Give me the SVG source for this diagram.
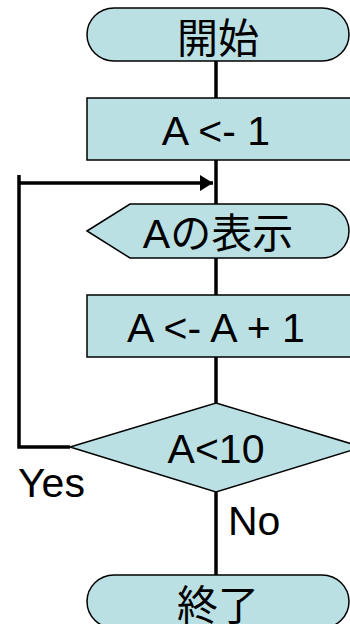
<svg xmlns="http://www.w3.org/2000/svg" width="350" height="624" viewBox="0 0 350 624">
<style>
.shape{fill:#bbe0e3;stroke:#000;stroke-width:1.5}
.conn{fill:none;stroke:#000;stroke-width:3.5}
text{font-family:"Liberation Sans","Noto Sans CJK JP",sans-serif;font-size:41px;fill:#000}
.c{text-anchor:middle}
</style>
<defs>
<marker id="arr" markerUnits="userSpaceOnUse" markerWidth="14" markerHeight="16" refX="13" refY="8" orient="auto">
<path d="M0,0 L13,8 L0,16 Z" fill="#000"/>
</marker>
</defs>
<rect width="350" height="624" fill="#fff"/>
<g id="connectors">
<line class="conn" x1="216" y1="61" x2="216" y2="98"/>
<line class="conn" x1="216" y1="160" x2="216" y2="204"/>
<line class="conn" x1="216" y1="258" x2="216" y2="295"/>
<line class="conn" x1="216" y1="357" x2="216" y2="403"/>
<line class="conn" x1="216" y1="492" x2="216" y2="575"/>
<polyline class="conn" points="70,447 19,447 19,175"/>
<line class="conn" x1="19" y1="183" x2="213" y2="183" marker-end="url(#arr)"/>
</g>
<g id="start">
<rect class="shape" x="87" y="8" width="262" height="53" rx="27" ry="26.5"/>
<text class="c" x="218" y="53">開始</text>
</g>
<g id="init">
<rect class="shape" x="87" y="98" width="270" height="62"/>
<text class="c" x="216" y="145">A &lt;- 1</text>
</g>
<g id="display">
<path class="shape" d="M87,231 L130,204 L322,204 A27,27 0 0 1 322,258 L130,258 Z"/>
<text class="c" x="218" y="248">Aの表示</text>
</g>
<g id="increment">
<rect class="shape" x="87" y="295" width="270" height="62"/>
<text class="c" x="216" y="342">A &lt;- A + 1</text>
</g>
<g id="decision">
<polygon class="shape" points="216,403 362,447 216,492 70,447"/>
<text class="c" x="216" y="463">A&lt;10</text>
</g>
<g id="labels">
<text x="18" y="497">Yes</text>
<text x="228" y="535">No</text>
</g>
<g id="end">
<rect class="shape" x="87" y="575" width="262" height="53" rx="27" ry="26.5"/>
<text class="c" x="218" y="620">終了</text>
</g>
</svg>
